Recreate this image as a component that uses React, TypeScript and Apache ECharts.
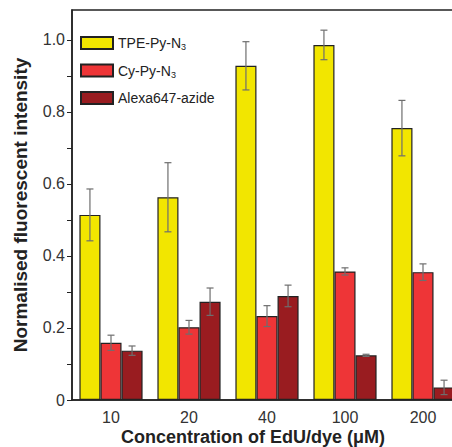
import React, { useEffect, useRef } from "react";
import * as echarts from "echarts";

const categories = ["10", "20", "40", "100", "200"];
const seriesNames = ["TPE-Py-N3", "Cy-Py-N3", "Alexa647-azide"];
const tpeValues = [0.514, 0.563, 0.928, 0.986, 0.755];
const tpeErrors = [0.072, 0.096, 0.067, 0.041, 0.077];
const cyValues = [0.159, 0.202, 0.233, 0.357, 0.355];
const cyErrors = [0.021, 0.019, 0.029, 0.01, 0.023];
const alexaValues = [0.137, 0.273, 0.289, 0.124, 0.035];
const alexaErrors = [0.013, 0.038, 0.03, 0.003, 0.02];
const yTickValues = [0, 0.1, 0.2, 0.3, 0.4, 0.5, 0.6, 0.7, 0.8, 0.9, 1.0];
const yLabelValues = [0, 0.2, 0.4, 0.6, 0.8, 1.0];

const colors = ["#f2e600", "#ee3537", "#991c20"];
const FONT = "'Liberation Sans', Arial, sans-serif";
const BAR_FRACTION = 0.27;

export default function App() {
  const ref = useRef<HTMLDivElement>(null);
  useEffect(() => {
    document.body.style.margin = "0";
    if (!ref.current) return;
    const chart = echarts.init(ref.current, undefined, { renderer: "svg" });
    const allValues = [tpeValues, cyValues, alexaValues];
    const allErrors = [tpeErrors, cyErrors, alexaErrors];

    const errData: number[][] = [];
    for (let s = 0; s < 3; s++) {
      for (let i = 0; i < categories.length; i++) {
        errData.push([i, allValues[s][i], allErrors[s][i], s]);
      }
    }

    const barSeries = seriesNames.map((name, s) => ({
      name,
      type: "bar",
      data: allValues[s],
      barWidth: BAR_FRACTION * 100 + "%",
      barGap: "0%",
      itemStyle: { color: colors[s], borderColor: "#222", borderWidth: 1.2 },
      z: 2,
    }));

    const option: any = {
      animation: false,
      textStyle: { fontFamily: FONT },
      grid: {
        left: 72,
        top: 10,
        width: 390,
        height: 390,
        show: true,
        borderColor: "#222",
        borderWidth: 1.5,
        containLabel: false,
        outerBoundsMode: "none",
      },
      legend: {
        data: seriesNames,
        orient: "vertical",
        left: 80,
        top: 36,
        padding: 0,
        itemWidth: 32,
        itemHeight: 12,
        itemGap: 12,
        icon: "rect",
        formatter: (n: string) =>
          n.endsWith("N3") ? n.slice(0, -1) + "{sub|3}" : n,
        textStyle: {
          fontFamily: FONT,
          fontSize: 14,
          color: "#222",
          rich: {
            sub: { fontSize: 9, fontFamily: FONT, color: "#222", padding: [8, 0, 0, 0] },
          },
        },
      },
      xAxis: {
        type: "category",
        data: categories,
        name: "Concentration of EdU/dye (μM)",
        nameLocation: "middle",
        nameGap: 27,
        nameMoveOverlap: false,
        nameTextStyle: {
          fontFamily: FONT,
          fontSize: 18,
          lineHeight: 19,
          fontWeight: "bold",
          color: "#222",
          padding: [0, 28, 0, 0],
        },
        axisLine: { lineStyle: { color: "#222", width: 1.5 } },
        axisTick: { alignWithLabel: true, length: 5, lineStyle: { color: "#222" } },
        axisLabel: { fontSize: 16, color: "#333", margin: 9, fontFamily: FONT },
      },
      yAxis: {
        type: "value",
        min: 0,
        max: 1.083,
        interval: 0.1,
        name: "Normalised fluorescent intensity",
        nameLocation: "middle",
        nameRotate: 90,
        nameGap: 42,
        nameMoveOverlap: false,
        nameTextStyle: {
          fontFamily: FONT,
          fontSize: 19,
          fontWeight: "bold",
          color: "#222",
        },
        axisLine: { show: true, lineStyle: { color: "#222", width: 1.5 } },
        axisTick: {
          show: true,
          length: 5,
          customValues: yTickValues,
          lineStyle: { color: "#222" },
        },
        axisLabel: {
          fontSize: 16,
          color: "#333",
          margin: 7,
          fontFamily: FONT,
          customValues: yLabelValues,
          formatter: (v: number) => (v === 0 ? "0" : v.toFixed(1)),
        },
        splitLine: { show: false },
      },
      series: [
        ...barSeries,
        {
          type: "custom",
          name: "errors",
          z: 5,
          data: errData,
          renderItem: (params: any, api: any) => {
            const i = api.value(0);
            const v = api.value(1);
            const e = api.value(2);
            const s = api.value(3);
            const catW = api.size([1, 0])[0];
            const bw = catW * BAR_FRACTION;
            const top = api.coord([i, v + e]);
            const bot = api.coord([i, v - e]);
            const x = top[0] + (s - 1) * bw;
            const cap = 3.5;
            const style = { stroke: "#6e6e6e", lineWidth: 1.2 };
            return {
              type: "group",
              children: [
                { type: "line", shape: { x1: x, y1: top[1], x2: x, y2: bot[1] }, style },
                { type: "line", shape: { x1: x - cap, y1: top[1], x2: x + cap, y2: top[1] }, style },
                { type: "line", shape: { x1: x - cap, y1: bot[1], x2: x + cap, y2: bot[1] }, style },
              ],
            };
          },
        },
      ],
    };
    chart.setOption(option);
    return () => chart.dispose();
  }, []);
  return <div ref={ref} style={{ width: 452, height: 447 }} />;
}
